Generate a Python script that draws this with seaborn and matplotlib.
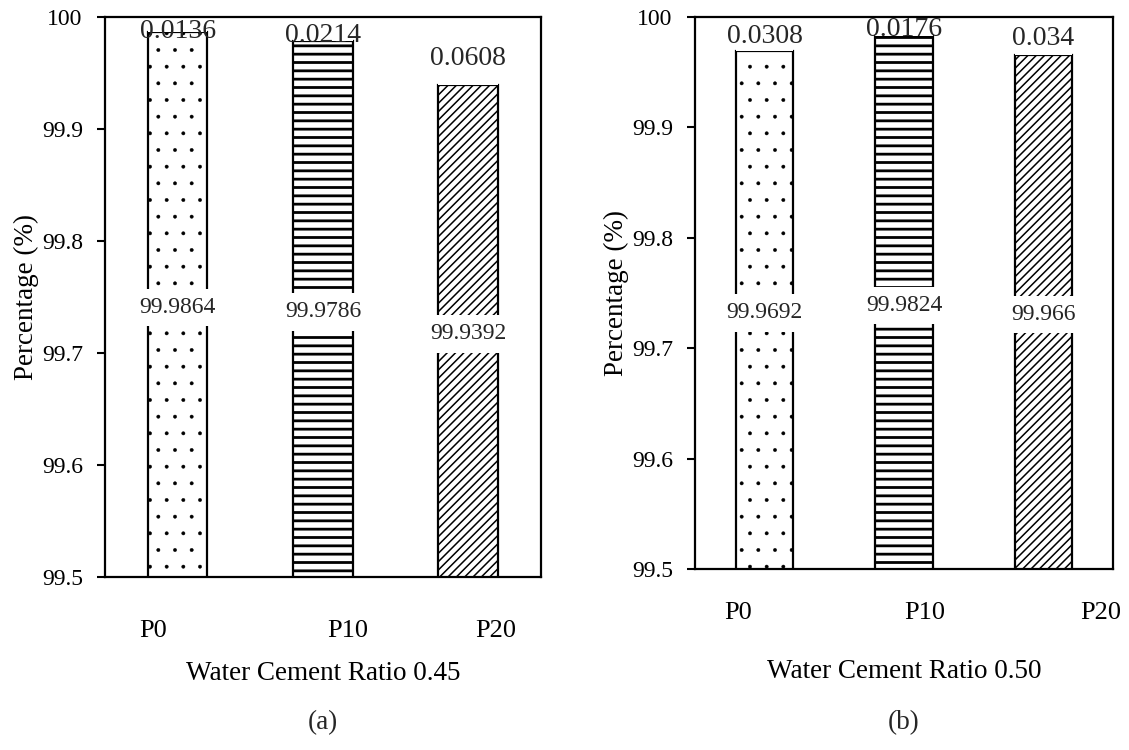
import matplotlib
matplotlib.use("Agg")
import matplotlib.pyplot as plt
import seaborn as sns
import pandas as pd

sns.set_theme(style="white")
plt.rcParams["font.family"] = ["Liberation Serif", "DejaVu Serif"]

# Mix designs on the category axis
mixes = ["P0", "P10", "P20"]

# w/c 0.45: retained share (lower part) and remaining share (upper part)
retained_045 = [99.9864, 99.9786, 99.9392]
remain_045 = [0.0136, 0.0214, 0.0608]

# w/c 0.50
retained_050 = [99.9692, 99.9824, 99.966]
remain_050 = [0.0308, 0.0176, 0.034]

y_ticks = [99.5, 99.6, 99.7, 99.8, 99.9, 100]
hatches = [".", "--", "////"]
hatch_widths = [0.3, 2.0, 1.1]

panels = [
    dict(retained=retained_045, remain=remain_045, xlabel="Water Cement Ratio 0.45",
         tag="(a)", rect=[0.093, 0.2307, 0.386, 0.7466],
         tick_shift=[-0.17, 0.17, 0.19], tick_pad=31, xlabel_pad=14, top_shift=5),
    dict(retained=retained_050, remain=remain_050, xlabel="Water Cement Ratio 0.50",
         tag="(b)", rect=[0.6156, 0.2413, 0.3702, 0.736],
         tick_shift=[-0.19, 0.15, 0.41], tick_pad=24, xlabel_pad=25, top_shift=2),
]

fig = plt.figure(figsize=(11.29, 7.5), dpi=100)
ymin = 99.5

for p in panels:
    ax = fig.add_axes(p["rect"])
    df = pd.DataFrame({"mix": mixes, "retained": p["retained"], "remain": p["remain"]})

    # lower (hatched) segment of each stacked column
    sns.barplot(data=df, x="mix", y="retained", ax=ax, color="white",
                width=0.41, edgecolor="black", linewidth=1.6, saturation=1, zorder=2)
    for patch, h, hw in zip(ax.patches, hatches, hatch_widths):
        patch.set_hatch(h)
        if hasattr(patch, "set_hatch_linewidth"):
            patch.set_hatch_linewidth(hw)

    # upper (blank) segment stacked on top, labelled at its middle
    ax.bar(range(len(mixes)), df["remain"], bottom=df["retained"], width=0.41,
           color="white", linewidth=0, zorder=2)
    for i, (b, r) in enumerate(zip(df["retained"], df["remain"])):
        ax.annotate(f"{r:g}", xy=(i, b + r / 2), xytext=(0, -p["top_shift"]),
                    textcoords="offset points", ha="center", va="center",
                    fontsize=20, zorder=5)

    # values of the lower segment, centred in the visible part of the column
    for i, v in enumerate(df["retained"]):
        ax.annotate(f"{v:g}", xy=(i, (ymin + v) / 2), xytext=(0, -2),
                    textcoords="offset points", ha="center", va="center",
                    fontsize=17, zorder=4,
                    bbox=dict(boxstyle="square,pad=0.35", facecolor="white",
                              edgecolor="none"))

    ax.set_ylim(ymin, 100)
    ax.set_xlim(-0.5, 2.5)
    ax.set_yticks(y_ticks)
    ax.set_yticklabels([f"{t:g}" for t in y_ticks])
    ax.set_xticks([i + s for i, s in enumerate(p["tick_shift"])])
    ax.set_xticklabels(mixes)
    ax.tick_params(axis="y", direction="out", length=6, width=1.5, labelsize=17,
                   pad=10, left=True, colors="black")
    ax.tick_params(axis="x", length=0, pad=p["tick_pad"], labelsize=19, colors="black")
    ax.set_ylabel("Percentage (%)", fontsize=19.5, labelpad=2, color="black")
    ax.set_xlabel(p["xlabel"], fontsize=19.5, labelpad=p["xlabel_pad"], color="black")
    for s in ax.spines.values():
        s.set_visible(True)
        s.set_color("black")
        s.set_linewidth(1.6)
    ax.grid(False)

    cx = p["rect"][0] + p["rect"][2] / 2
    fig.text(cx, 1 - 723 / 750, p["tag"], ha="center", va="center", fontsize=19.5)

fig.savefig("out.png", dpi=100, facecolor="white")
